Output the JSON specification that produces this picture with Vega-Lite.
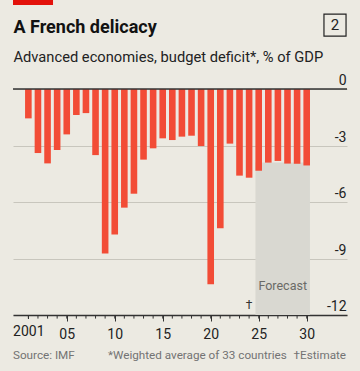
{
  "$schema": "https://vega.github.io/schema/vega-lite/v6.json",
  "width": 334,
  "height": 226,
  "autosize": {"type": "none"},
  "padding": {"left": 13, "top": 89, "right": 13, "bottom": 56},
  "background": "#ECEAE2",
  "config": {"view": {"stroke": null}, "font": "Roboto"},
  "datasets": {
    "deficit": [
      {"year": 2001, "value": -1.56},
      {"year": 2002, "value": -3.40},
      {"year": 2003, "value": -3.95},
      {"year": 2004, "value": -3.24},
      {"year": 2005, "value": -2.41},
      {"year": 2006, "value": -1.38},
      {"year": 2007, "value": -1.28},
      {"year": 2008, "value": -3.51},
      {"year": 2009, "value": -8.73},
      {"year": 2010, "value": -7.72},
      {"year": 2011, "value": -6.30},
      {"year": 2012, "value": -5.56},
      {"year": 2013, "value": -3.75},
      {"year": 2014, "value": -3.15},
      {"year": 2015, "value": -2.62},
      {"year": 2016, "value": -2.71},
      {"year": 2017, "value": -2.53},
      {"year": 2018, "value": -2.48},
      {"year": 2019, "value": -3.03},
      {"year": 2020, "value": -10.37},
      {"year": 2021, "value": -7.40},
      {"year": 2022, "value": -2.90},
      {"year": 2023, "value": -4.60},
      {"year": 2024, "value": -4.71},
      {"year": 2025, "value": -4.34},
      {"year": 2026, "value": -3.91},
      {"year": 2027, "value": -3.82},
      {"year": 2028, "value": -3.96},
      {"year": 2029, "value": -3.97},
      {"year": 2030, "value": -4.06}
    ],
    "forecast": [{"start": 2024.66, "end": 2030.34, "top": -3.9, "bottom": -12}],
    "zero": [{"v": 0}],
    "footerLeft": [
      {"x": 1999.4, "y": -14.13, "label": "Source: IMF"},
      {"x": 2009.3, "y": -14.13, "label": "*Weighted average of 33 countries"}
    ],
    "footerRight": [
      {"x": 2034.1, "y": -14.13, "label": "†Estimate"}
    ],
    "headline": [{"x": 1999.45, "y": 2.97, "label": "A French delicacy"}],
    "subhead": [{"x": 1999.45, "y": 1.43, "label": "Advanced economies, budget deficit*, % of GDP"}],
    "redbar": [{"x": 1999.4, "x2": 2003.57, "y": 4.73, "y2": 4.46}],
    "box": [{"x": 2031.8, "x2": 2034.1, "y": 3.98, "y2": 2.81, "cx": 2032.95, "cy": 3.38, "label": "2"}],
    "notes": [
      {"x": 2027.5, "y": -10.46, "label": "Forecast"}
    ],
    "dagger": [{"x": 2024, "y": -12, "label": "†"}]
  },
  "layer": [
    {
      "data": {"name": "forecast"},
      "mark": {"type": "rect", "color": "#D9D8D1"},
      "encoding": {
        "x": {"field": "start", "type": "quantitative"},
        "x2": {"field": "end"},
        "y": {"field": "top", "type": "quantitative"},
        "y2": {"field": "bottom"}
      }
    },
    {
      "data": {"name": "deficit"},
      "mark": {"type": "bar", "width": 6.6, "color": "#F24C36"},
      "encoding": {
        "x": {
          "field": "year",
          "type": "quantitative",
          "scale": {"domain": [1999.4, 2034.2], "nice": false, "zero": false, "padding": 0},
          "axis": {
            "orient": "bottom",
            "title": null,
            "grid": false,
            "values": [2001, 2005, 2010, 2015, 2020, 2025, 2030],
            "labelExpr": "datum.value == 2001 ? '2001' : substring('' + datum.value, 2, 4)",
            "labelOverlap": false,
            "labelFlush": false,
            "domainColor": "#333333",
            "domainWidth": 1.3,
            "tickColor": "#333333",
            "tickWidth": 1,
            "tickSize": {"condition": {"test": "datum.value == 2001", "value": 3.5}, "value": 6},
            "labelFontSize": 14,
            "labelColor": "#222222",
            "labelPadding": 6
          }
        },
        "y": {
          "field": "value",
          "type": "quantitative",
          "scale": {"domain": [-12, 0], "nice": false, "zero": false},
          "axis": {
            "orient": "right",
            "title": null,
            "values": [0, -3, -6, -9, -12],
            "labelExpr": "'' + datum.value",
            "grid": true,
            "gridColor": "#C8C6BD",
            "gridWidth": 1,
            "domain": false,
            "ticks": false,
            "tickSize": 0,
            "labelAlign": "right",
            "labelBaseline": "alphabetic",
            "labelPadding": -1,
            "labelOffset": -4.5,
            "labelFontSize": 14,
            "labelColor": "#222222"
          }
        },
        "y2": {"datum": 0}
      }
    },
    {
      "data": {"name": "deficit"},
      "mark": {"type": "rule", "color": "#333333", "strokeWidth": 1},
      "encoding": {
        "x": {"field": "year", "type": "quantitative"},
        "y": {"datum": -12},
        "y2": {"datum": -12.19}
      }
    },
    {
      "data": {"name": "zero"},
      "mark": {"type": "rule", "color": "#333333", "strokeWidth": 1.5},
      "encoding": {
        "y": {"field": "v", "type": "quantitative"}
      }
    },
    {
      "data": {"name": "notes"},
      "mark": {"type": "text", "fontSize": 12.5, "color": "#6A6A66", "align": "center", "baseline": "middle"},
      "encoding": {
        "x": {"field": "x", "type": "quantitative"},
        "y": {"field": "y", "type": "quantitative"},
        "text": {"field": "label"}
      }
    },
    {
      "data": {"name": "dagger"},
      "mark": {"type": "text", "fontSize": 12, "color": "#333333", "align": "center", "baseline": "bottom", "dy": -3},
      "encoding": {
        "x": {"field": "x", "type": "quantitative"},
        "y": {"field": "y", "type": "quantitative"},
        "text": {"field": "label"}
      }
    },
    {
      "data": {"name": "footerLeft"},
      "mark": {"type": "text", "fontSize": 11.7, "color": "#737373", "align": "left", "baseline": "middle"},
      "encoding": {
        "x": {"field": "x", "type": "quantitative"},
        "y": {"field": "y", "type": "quantitative"},
        "text": {"field": "label"}
      }
    },
    {
      "data": {"name": "footerRight"},
      "mark": {"type": "text", "fontSize": 11.7, "color": "#737373", "align": "right", "baseline": "middle"},
      "encoding": {
        "x": {"field": "x", "type": "quantitative"},
        "y": {"field": "y", "type": "quantitative"},
        "text": {"field": "label"}
      }
    },
    {
      "data": {"name": "headline"},
      "mark": {"type": "text", "fontSize": 18, "fontWeight": "bold", "color": "#121212", "align": "left", "baseline": "alphabetic"},
      "encoding": {
        "x": {"field": "x", "type": "quantitative"},
        "y": {"field": "y", "type": "quantitative"},
        "text": {"field": "label"}
      }
    },
    {
      "data": {"name": "subhead"},
      "mark": {"type": "text", "fontSize": 14.7, "color": "#222222", "align": "left", "baseline": "alphabetic"},
      "encoding": {
        "x": {"field": "x", "type": "quantitative"},
        "y": {"field": "y", "type": "quantitative"},
        "text": {"field": "label"}
      }
    },
    {
      "data": {"name": "redbar"},
      "mark": {"type": "rect", "color": "#E3120B"},
      "encoding": {
        "x": {"field": "x", "type": "quantitative"},
        "x2": {"field": "x2"},
        "y": {"field": "y", "type": "quantitative"},
        "y2": {"field": "y2"}
      }
    },
    {
      "data": {"name": "box"},
      "mark": {"type": "rect", "fill": null, "fillOpacity": 0, "stroke": "#222222", "strokeWidth": 1.2},
      "encoding": {
        "x": {"field": "x", "type": "quantitative"},
        "x2": {"field": "x2"},
        "y": {"field": "y", "type": "quantitative"},
        "y2": {"field": "y2"}
      }
    },
    {
      "data": {"name": "box"},
      "mark": {"type": "text", "fontSize": 15, "color": "#222222", "align": "center", "baseline": "middle"},
      "encoding": {
        "x": {"field": "cx", "type": "quantitative"},
        "y": {"field": "cy", "type": "quantitative"},
        "text": {"field": "label"}
      }
    }
  ]
}
